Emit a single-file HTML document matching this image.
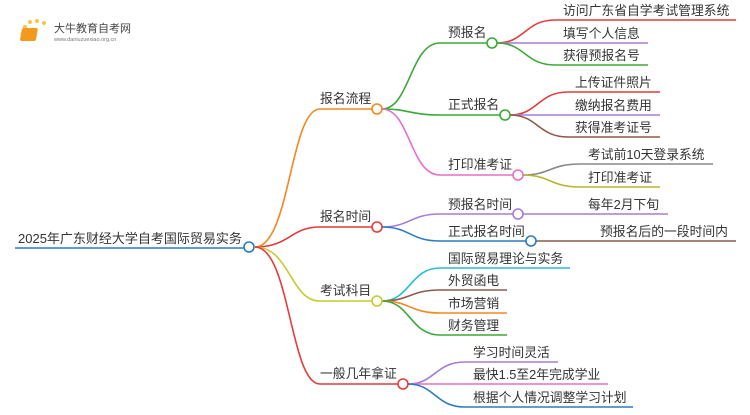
<!DOCTYPE html>
<html><head><meta charset="utf-8"><style>
body{margin:0;background:#fff}
svg text{font-family:"Liberation Sans","Noto Sans CJK SC",sans-serif;font-size:12.8px;fill:#333}
</style></head><body>
<svg width="750" height="410" viewBox="0 0 750 410" xmlns="http://www.w3.org/2000/svg" fill="none" stroke-width="1.6">
<g>
<circle cx="25" cy="27" r="2" fill="#f8c34a"/><circle cx="30" cy="22" r="2" fill="#f8c34a"/><circle cx="37" cy="21" r="2" fill="#f8c34a"/><circle cx="44" cy="23" r="2" fill="#f8c34a"/><circle cx="22" cy="34" r="1.5" fill="#f8c34a"/>
<rect x="27" y="28" width="16" height="13" rx="2" fill="#f39a1e" transform="skewX(-10)"/>
<text x="54" y="32" style="font-size:11px;fill:#444">大牛教育自考网</text>
<text x="54" y="41" style="font-size:5.5px;fill:#777">www.daniuzuexiao.org.cn</text>
</g>
<text x="18" y="243" style="font-size:13px">2025年广东财经大学自考国际贸易实务</text>
<path d="M15 248H244" stroke="#2b7bc0"/>
<path d="M255 247C290 247 290 109 320 109H372" stroke="#f5871f"/>
<path d="M255 247C290 247 290 227 320 227H372" stroke="#e23c3c"/>
<path d="M255 247C290 247 290 301 320 301H372" stroke="#c8c832"/>
<path d="M255 247C290 247 290 384 320 384H398" stroke="#e23c3c"/>
<text x="320" y="103">报名流程</text>
<text x="320" y="221">报名时间</text>
<text x="320" y="295">考试科目</text>
<text x="320" y="378">一般几年拿证</text>
<path d="M382 109C410 109 410 43 440 43H487" stroke="#3aaa35"/>
<path d="M382 109C410 109 410 115 440 115H500" stroke="#3aaa35"/>
<path d="M382 109C410 109 410 175 440 175H513" stroke="#e66fc9"/>
<text x="448" y="37">预报名</text>
<text x="448" y="109">正式报名</text>
<text x="448" y="169">打印准考证</text>
<path d="M497 43C525 43 525 20 555 20H736" stroke="#e23c3c"/>
<path d="M497 43H648" stroke="#a77bd6"/>
<path d="M497 43C525 43 525 65 555 65H648" stroke="#3aaa35"/>
<text x="563" y="15">访问广东省自学考试管理系统</text>
<text x="563" y="38">填写个人信息</text>
<text x="563" y="60">获得预报名号</text>
<path d="M510 115C538 115 538 92 568 92H660" stroke="#e23c3c"/>
<path d="M510 115H660" stroke="#a77bd6"/>
<path d="M510 115C538 115 538 137 568 137H660" stroke="#8b5a4a"/>
<text x="575" y="87">上传证件照片</text>
<text x="575" y="110">缴纳报名费用</text>
<text x="575" y="132">获得准考证号</text>
<path d="M523 175C550 175 550 164 580 164H713" stroke="#888"/>
<path d="M523 175C550 175 550 187 580 187H660" stroke="#b5b52a"/>
<text x="588" y="159">考试前10天登录系统</text>
<text x="588" y="182">打印准考证</text>
<path d="M382 227C410 227 410 214 440 214H513" stroke="#a77bd6"/>
<path d="M382 227C410 227 410 241 440 241H526" stroke="#2b7bc0"/>
<text x="448" y="209">预报名时间</text>
<text x="448" y="236">正式报名时间</text>
<path d="M523 214H668" stroke="#a77bd6"/>
<path d="M536 241H736" stroke="#8b5a4a"/>
<text x="588" y="209">每年2月下旬</text>
<text x="600" y="236">预报名后的一段时间内</text>
<path d="M382 301C410 301 410 268 440 268H570" stroke="#2bbcd4"/>
<path d="M382 301C410 301 410 290 440 290H507" stroke="#8b5a4a"/>
<path d="M382 301C410 301 410 313 440 313H507" stroke="#f5871f"/>
<path d="M382 301C410 301 410 335 440 335H507" stroke="#3aaa35"/>
<text x="448" y="263">国际贸易理论与实务</text>
<text x="448" y="285">外贸函电</text>
<text x="448" y="308">市场营销</text>
<text x="448" y="330">财务管理</text>
<path d="M408 384C435 384 435 362 465 362H558" stroke="#a77bd6"/>
<path d="M408 384H608" stroke="#e66fc9"/>
<path d="M408 384C435 384 435 407 465 407H633" stroke="#2b7bc0"/>
<text x="473" y="357">学习时间灵活</text>
<text x="473" y="379">最快1.5至2年完成学业</text>
<text x="473" y="402">根据个人情况调整学习计划</text>
<g fill="#fff" stroke-width="1.6">
<circle cx="249" cy="247" r="5" stroke="#2b7bc0"/>
<circle cx="377" cy="109" r="5" stroke="#f5871f"/>
<circle cx="377" cy="227" r="5" stroke="#e23c3c"/>
<circle cx="377" cy="301" r="5" stroke="#c8c832"/>
<circle cx="403" cy="384" r="5" stroke="#e23c3c"/>
<circle cx="492" cy="43" r="5" stroke="#3aaa35"/>
<circle cx="505" cy="115" r="5" stroke="#3aaa35"/>
<circle cx="518" cy="175" r="5" stroke="#e66fc9"/>
<circle cx="518" cy="214" r="5" stroke="#a77bd6"/>
<circle cx="531" cy="241" r="5" stroke="#2b7bc0"/>
</g>
</svg>
</body></html>
